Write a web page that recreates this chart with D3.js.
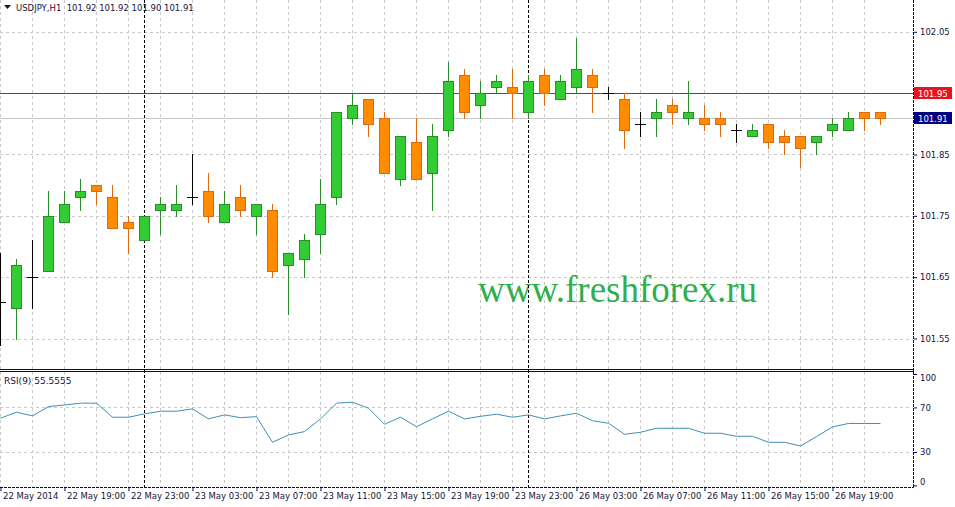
<!DOCTYPE html>
<html>
<head>
<meta charset="utf-8">
<script src="https://cdn.jsdelivr.net/npm/d3@7/dist/d3.min.js"></script>
<style>
  body { margin: 0; background: #fff; }
  svg { display: block; }
  text { font-family: 'DejaVu Sans', sans-serif; }
</style>
</head>
<body>
<div id="chart"></div>
<script>
// USDJPY H1 bars, 22 May 15:00 .. 26 May 22:00
const opens = [101.61, 101.60, 101.65, 101.66, 101.74, 101.78, 101.80, 101.78, 101.74, 101.71,
    101.76, 101.76, 101.78, 101.79, 101.74, 101.78, 101.75, 101.76, 101.67, 101.68,
    101.72, 101.78, 101.91, 101.94, 101.91, 101.81, 101.87, 101.82, 101.89, 101.98,
    101.93, 101.96, 101.96, 101.92, 101.98, 101.94, 101.96, 101.98, 101.95, 101.94,
    101.90, 101.91, 101.93, 101.91, 101.91, 101.91, 101.89, 101.88, 101.90, 101.88,
    101.88, 101.87, 101.89, 101.89, 101.92, 101.92];
const highs = [101.69, 101.68, 101.71, 101.79, 101.79, 101.81, 101.80, 101.80, 101.75, 101.75,
    101.78, 101.80, 101.85, 101.82, 101.79, 101.80, 101.77, 101.77, 101.69, 101.72,
    101.81, 101.92, 101.95, 101.94, 101.92, 101.88, 101.91, 101.90, 102.00, 101.99,
    101.97, 101.98, 101.99, 101.98, 101.99, 101.98, 102.04, 101.99, 101.96, 101.95,
    101.92, 101.94, 101.94, 101.97, 101.93, 101.92, 101.90, 101.90, 101.90, 101.89,
    101.88, 101.88, 101.91, 101.92, 101.92, 101.92];
const lows = [101.54, 101.55, 101.60, 101.66, 101.74, 101.76, 101.77, 101.73, 101.69, 101.71,
    101.72, 101.75, 101.77, 101.74, 101.74, 101.75, 101.72, 101.65, 101.59, 101.65,
    101.69, 101.77, 101.90, 101.88, 101.82, 101.80, 101.81, 101.76, 101.88, 101.91,
    101.91, 101.95, 101.91, 101.91, 101.93, 101.94, 101.95, 101.92, 101.94, 101.86,
    101.88, 101.88, 101.90, 101.90, 101.89, 101.88, 101.87, 101.88, 101.86, 101.85,
    101.83, 101.85, 101.88, 101.89, 101.89, 101.90];
const closes = [101.61, 101.67, 101.65, 101.75, 101.77, 101.79, 101.79, 101.73, 101.73, 101.75,
    101.77, 101.77, 101.78, 101.75, 101.77, 101.76, 101.77, 101.66, 101.69, 101.71,
    101.77, 101.92, 101.93, 101.90, 101.82, 101.88, 101.81, 101.88, 101.97, 101.92,
    101.95, 101.97, 101.95, 101.97, 101.95, 101.97, 101.99, 101.96, 101.95, 101.89,
    101.90, 101.92, 101.92, 101.92, 101.90, 101.90, 101.89, 101.89, 101.87, 101.87,
    101.86, 101.88, 101.90, 101.91, 101.91, 101.91];
const rsiValues = [60.3, 65.7, 62.4, 70.7, 72.2, 73.8, 73.8, 61.2, 61.2, 64.2,
    66.6, 66.6, 68.7, 59.7, 63.3, 60.8, 61.7, 38.7, 45.3, 48.3,
    59.7, 73.8, 74.7, 69.3, 54.9, 61.2, 52.7, 59.7, 66.6, 59.7,
    62.0, 63.9, 61.2, 63.3, 59.7, 62.4, 64.8, 58.1, 55.8, 45.9,
    47.7, 51.3, 51.3, 51.3, 46.8, 46.8, 44.1, 44.1, 38.7, 38.7,
    35.4, 43.8, 52.5, 55.6, 55.6, 55.56];

const timeLabels = ['22 May 2014', '22 May 19:00', '22 May 23:00', '23 May 03:00', '23 May 07:00',
    '23 May 11:00', '23 May 15:00', '23 May 19:00', '23 May 23:00', '26 May 03:00',
    '26 May 07:00', '26 May 11:00', '26 May 15:00', '26 May 19:00'];
const timeLabelBars = [0, 4, 8, 12, 16, 20, 24, 28, 32, 36, 40, 44, 48, 52];
const daySeparatorBars = [9, 33];
const priceGrid = [101.55, 101.65, 101.75, 101.85, 101.95, 102.05];
const priceTicks = [101.55, 101.65, 101.75, 101.85, 102.05];
const rsiTicks = [0, 30, 70, 100];
const rsiGrid = [30, 70];
const hLineLevel = 101.95;
const lastClose = 101.91;

const width = 955, height = 507;
const plotRight = 913;
const mainBottom = 369, rsiTop = 371, rsiBottom = 487;
const fontSize = '8.5px';

const navy = '#000080';
const textColor = '#14143c';
const gridColor = '#c8c8c8';

const svg = d3.select('#chart').append('svg')
    .attr('width', width)
    .attr('height', height);

svg.append('rect').attr('width', width).attr('height', height).attr('fill', '#fff');

const x = d3.scaleLinear().domain([0, 55]).range([0, 880]);
const y = d3.scaleLinear().domain([101.55, 102.05]).range([338.5, 31.8]);
const yRsi = d3.scaleLinear().domain([0, 100]).range([485.4, 374]);

const px = v => Math.round(v) + 0.5;

const candles = opens.map((o, i) => ({
    i: i, open: o, high: highs[i], low: lows[i], close: closes[i]
}));

// grid
const grid = svg.append('g')
    .attr('stroke', gridColor)
    .attr('stroke-dasharray', '3,3')
    .attr('fill', 'none');

const gridBars = d3.range(0, 56, 2);
grid.selectAll('line.v')
    .data(gridBars)
    .enter().append('line')
    .attr('x1', d => px(x(d))).attr('x2', d => px(x(d)))
    .attr('y1', 0).attr('y2', rsiBottom);

grid.selectAll('line.h')
    .data(priceGrid.filter(d => d !== hLineLevel))
    .enter().append('line')
    .attr('x1', 0).attr('x2', plotRight)
    .attr('y1', d => px(y(d))).attr('y2', d => px(y(d)));

grid.selectAll('line.r')
    .data(rsiGrid)
    .enter().append('line')
    .attr('x1', 0).attr('x2', plotRight)
    .attr('y1', d => px(yRsi(d))).attr('y2', d => px(yRsi(d)));

// bid line and horizontal level
svg.append('line')
    .attr('x1', 0).attr('x2', plotRight)
    .attr('y1', px(y(lastClose))).attr('y2', px(y(lastClose)))
    .attr('stroke', '#c8c8c8');

svg.append('line')
    .attr('x1', 0).attr('x2', plotRight)
    .attr('y1', px(y(hLineLevel))).attr('y2', px(y(hLineLevel)))
    .attr('stroke', '#e01010');

// watermark
svg.append('text')
    .attr('x', 478)
    .attr('y', 302)
    .attr('fill', '#2fae4e')
    .style('font-family', "'Liberation Serif', serif")
    .style('font-size', '37px')
    .text('www.freshforex.ru');

// day separators
svg.selectAll('line.sep')
    .data(daySeparatorBars)
    .enter().append('line')
    .attr('x1', d => px(x(d))).attr('x2', d => px(x(d)))
    .attr('y1', 0).attr('y2', rsiBottom)
    .attr('stroke', '#000')
    .attr('stroke-dasharray', '3,2');

// candles
const bull = { fill: '#32cd32', stroke: '#2a8c2a' };
const bear = { fill: '#ff8c00', stroke: '#dd6a10' };

const candleG = svg.append('g');
candles.forEach(d => {
    const cx = Math.round(x(d.i));
    const g = candleG.append('g');
    if (d.open === d.close) {
        g.append('line')
            .attr('x1', cx + 0.5).attr('x2', cx + 0.5)
            .attr('y1', Math.round(y(d.high))).attr('y2', Math.round(y(d.low)) + 1)
            .attr('stroke', '#000');
        g.append('line')
            .attr('x1', cx - 5).attr('x2', cx + 6)
            .attr('y1', px(y(d.open))).attr('y2', px(y(d.open)))
            .attr('stroke', '#000');
        return;
    }
    const c = d.close > d.open ? bull : bear;
    const top = Math.round(y(Math.max(d.open, d.close)));
    const bot = Math.round(y(Math.min(d.open, d.close)));
    g.append('line')
        .attr('x1', cx + 0.5).attr('x2', cx + 0.5)
        .attr('y1', Math.round(y(d.high))).attr('y2', Math.round(y(d.low)) + 1)
        .attr('stroke', c.stroke);
    g.append('rect')
        .attr('x', cx - 4.5)
        .attr('y', top + 0.5)
        .attr('width', 10)
        .attr('height', Math.max(1, bot - top))
        .attr('fill', c.fill)
        .attr('stroke', c.stroke);
});

// RSI line
const rsiLine = d3.line()
    .x((d, i) => x(i) + 0.5)
    .y(d => yRsi(d));

svg.append('path')
    .datum(rsiValues)
    .attr('d', rsiLine)
    .attr('fill', 'none')
    .attr('stroke', '#3f8fb5')
    .attr('stroke-width', 1);

// panel frame
const frame = svg.append('g').attr('stroke', navy).attr('fill', 'none');
frame.append('line').attr('x1', 0).attr('x2', plotRight + 1).attr('y1', mainBottom + 0.5).attr('y2', mainBottom + 0.5);
frame.append('line').attr('x1', 0).attr('x2', plotRight + 1).attr('y1', rsiTop + 0.5).attr('y2', rsiTop + 0.5);
frame.append('line').attr('x1', 0).attr('x2', plotRight + 1).attr('y1', rsiBottom + 0.5).attr('y2', rsiBottom + 0.5)
    .attr('stroke-dasharray', '3,1');
frame.append('line').attr('x1', plotRight + 0.5).attr('x2', plotRight + 0.5).attr('y1', 0).attr('y2', rsiBottom + 1)
    .attr('stroke-dasharray', '3,1');

// price axis
const priceAxis = d3.axisRight(y)
    .tickValues(priceTicks)
    .tickSize(3)
    .tickPadding(3)
    .tickFormat(d3.format('.2f'));

const pa = svg.append('g')
    .attr('transform', `translate(${plotRight + 1},0)`)
    .call(priceAxis);
pa.select('.domain').remove();
pa.selectAll('line').attr('stroke', navy);
pa.selectAll('text').attr('fill', textColor).style('font-size', fontSize).style('font-family', "'DejaVu Sans', sans-serif");

// price markers
function priceMarker(value, label, bg) {
    const cy = Math.round(y(value));
    svg.append('rect')
        .attr('x', plotRight + 1).attr('y', cy - 6)
        .attr('width', 38).attr('height', 12)
        .attr('fill', bg);
    svg.append('text')
        .attr('x', plotRight + 5).attr('y', cy + 4)
        .attr('fill', '#fff')
        .style('font-size', fontSize)
        .text(label);
}
priceMarker(hLineLevel, '101.95', '#e8141a');
priceMarker(lastClose, '101.91', navy);

// RSI axis
const rsiAxis = d3.axisRight(yRsi)
    .tickValues(rsiTicks)
    .tickSize(3)
    .tickPadding(3);

const ra = svg.append('g')
    .attr('transform', `translate(${plotRight + 1},0)`)
    .call(rsiAxis);
ra.select('.domain').remove();
ra.selectAll('line').attr('stroke', navy);
ra.selectAll('text').attr('fill', textColor).style('font-size', fontSize).style('font-family', "'DejaVu Sans', sans-serif");
ra.selectAll('.tick').filter(d => d === 100).select('text').attr('y', 4);
ra.selectAll('.tick').filter(d => d === 0).select('text').attr('y', -4);

// time axis
const timeAxis = d3.axisBottom(x)
    .tickValues(timeLabelBars)
    .tickSize(3)
    .tickFormat((d, i) => timeLabels[i]);

const ta = svg.append('g')
    .attr('transform', `translate(0.5,${rsiBottom + 1})`)
    .call(timeAxis);
ta.select('.domain').remove();
ta.selectAll('line').attr('stroke', navy);
ta.selectAll('text')
    .attr('text-anchor', 'start')
    .attr('x', 2)
    .attr('y', 5)
    .attr('fill', textColor)
    .style('font-size', fontSize)
    .style('font-family', "'DejaVu Sans', sans-serif");

// labels
svg.append('path')
    .attr('d', 'M4,5 L11,5 L7.5,9 Z')
    .attr('fill', textColor);
svg.append('text')
    .attr('x', 16).attr('y', 11)
    .attr('fill', textColor)
    .style('font-size', fontSize)
    .attr('xml:space', 'preserve')
    .text('USDJPY,H1  101.92 101.92 101.90 101.91');

svg.append('text')
    .attr('x', 4).attr('y', 384)
    .attr('fill', textColor)
    .style('font-size', '9px')
    .text('RSI(9) 55.5555');
</script>
</body>
</html>
